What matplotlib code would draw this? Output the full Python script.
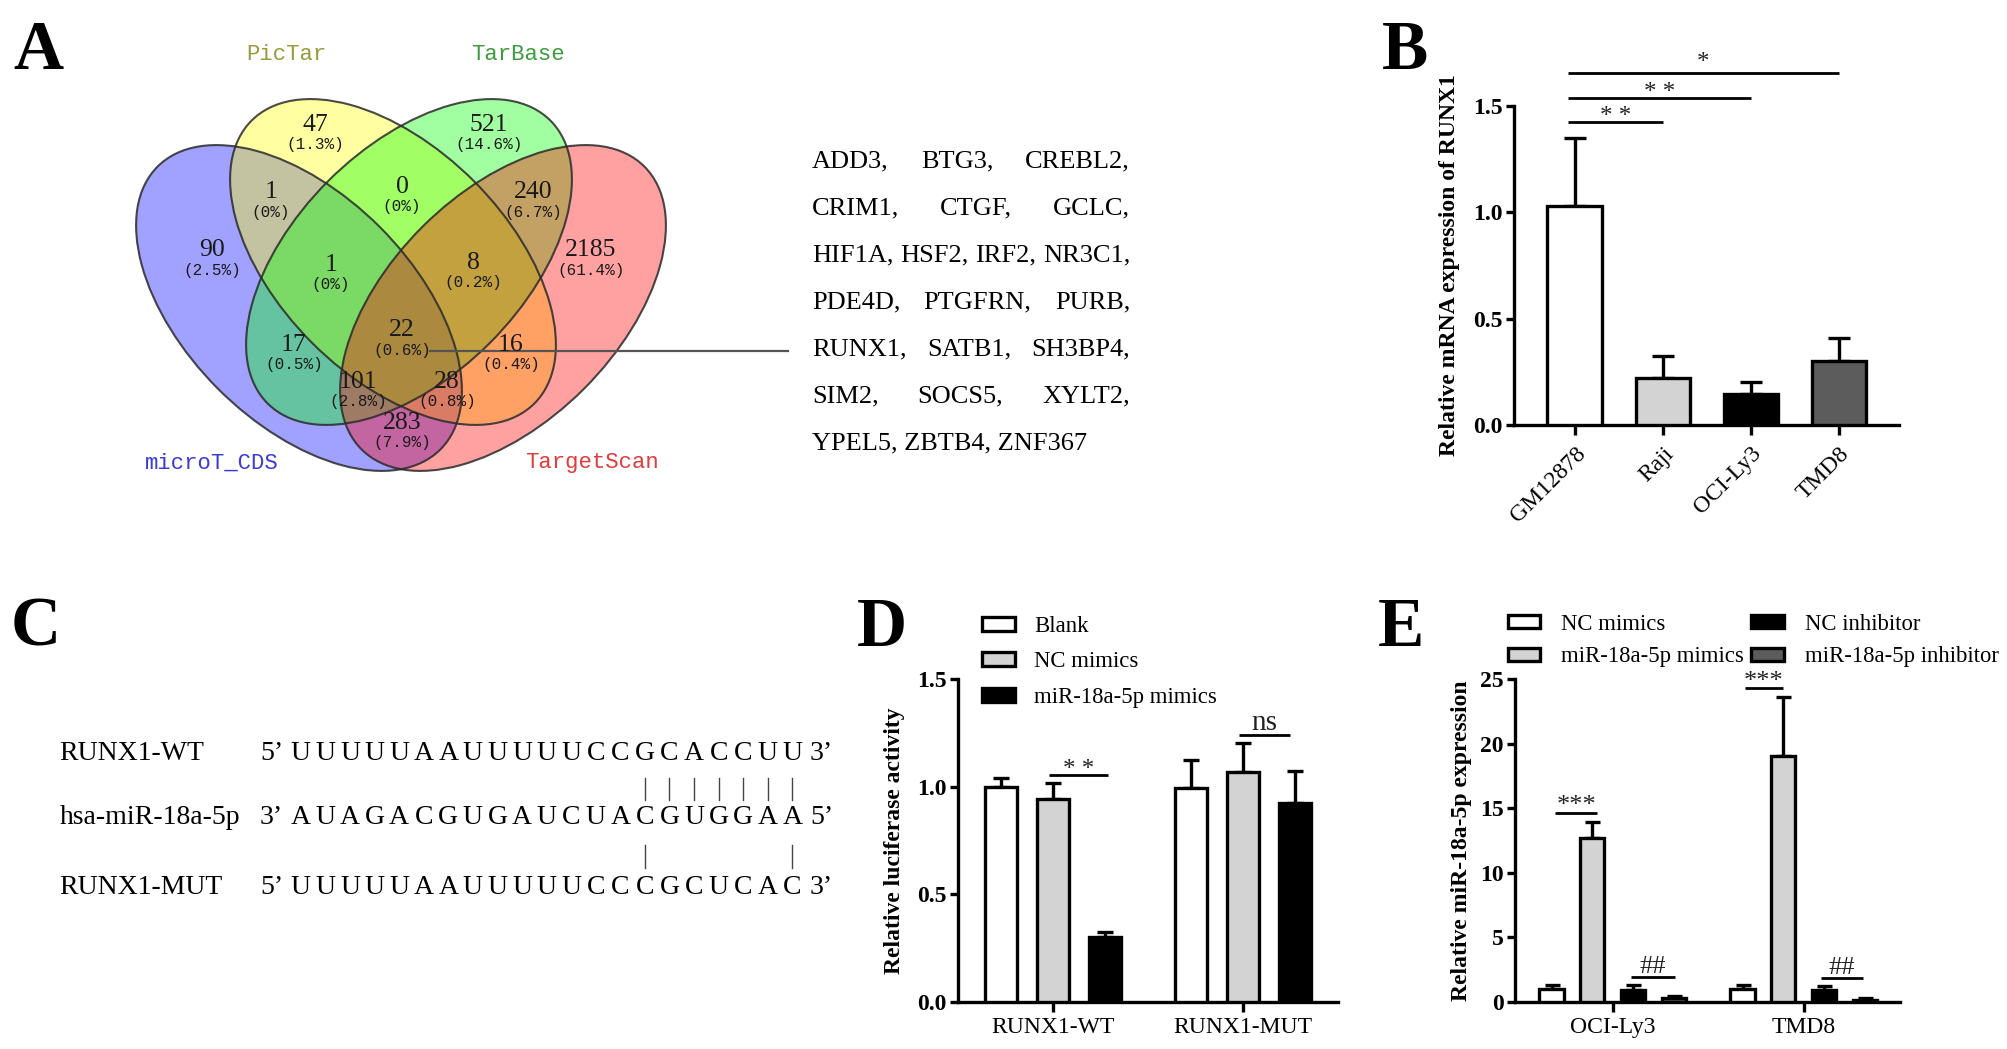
import numpy as np
import matplotlib
matplotlib.use('Agg')
import matplotlib.pyplot as plt
from matplotlib.patches import Ellipse

plt.rcParams['font.family'] = ['Liberation Serif', 'DejaVu Serif']

# ---------------- data ----------------
venn_sets = ['microT_CDS', 'PicTar', 'TarBase', 'TargetScan']
venn_colors = ['#0000FF', '#FFFF00', '#00FF00', '#FF0000']
venn_label_colors = ['#3A3AD8', '#9A9A3C', '#3C9C3C', '#E03C3C']
venn_counts = [47, 521, 1, 0, 240, 90, 1, 8, 2185, 22, 17, 16, 101, 28, 283]
venn_pcts = ['1.3%', '14.6%', '0%', '0%', '6.7%', '2.5%', '0%', '0.2%',
             '61.4%', '0.6%', '0.5%', '0.4%', '2.8%', '0.8%', '7.9%']
common_genes = ['ADD3', 'BTG3', 'CREBL2', 'CRIM1', 'CTGF', 'GCLC', 'HIF1A', 'HSF2',
                'IRF2', 'NR3C1', 'PDE4D', 'PTGFRN', 'PURB', 'RUNX1', 'SATB1', 'SH3BP4',
                'SIM2', 'SOCS5', 'XYLT2', 'YPEL5', 'ZBTB4', 'ZNF367']
gene_row_sizes = [3, 3, 4, 3, 3, 3, 3]

cells_B = ['GM12878', 'Raji', 'OCI-Ly3', 'TMD8']
runx1_mean = [1.03, 0.22, 0.147, 0.30]
runx1_err = [0.32, 0.106, 0.055, 0.109]
sig_B = ['**', '**', '*']

seq_names = ['RUNX1-WT', 'hsa-miR-18a-5p', 'RUNX1-MUT']
seq_ends = [('5\u2019', '3\u2019'), ('3\u2019', '5\u2019'), ('5\u2019', '3\u2019')]
seqs = ['UUUUUAAUUUUUCCGCACCUU', 'AUAGACGUGAUCUACGUGGAA', 'UUUUUAAUUUUUCCCGCUCAC']
pairs_top = [14, 15, 16, 17, 18, 19, 20]
pairs_bottom = [14, 20]

constructs = ['RUNX1-WT', 'RUNX1-MUT']
groups_D = ['Blank', 'NC mimics', 'miR-18a-5p mimics']
luc_blank = [0.996, 0.992]
luc_nc = [0.942, 1.066]
luc_mir = [0.299, 0.925]
luc_blank_err = [0.042, 0.132]
luc_nc_err = [0.073, 0.135]
luc_mir_err = [0.023, 0.147]
sig_D = ['**', 'ns']

cells_E = ['OCI-Ly3', 'TMD8']
groups_E = ['NC mimics', 'miR-18a-5p mimics', 'NC inhibitor', 'miR-18a-5p inhibitor']
mir_nc_mimics = [1.0, 1.0]
mir_mimics = [12.7, 19.06]
mir_nc_inh = [0.9, 0.9]
mir_inh = [0.26, 0.15]
mir_nc_mimics_err = [0.33, 0.28]
mir_mimics_err = [1.2, 4.57]
mir_nc_inh_err = [0.38, 0.3]
mir_inh_err = [0.15, 0.1]
sig_E = ['***', '##']

# ---------------- layout helpers ----------------
W, H = 2008, 1049
fig = plt.figure(figsize=(W / 100, H / 100), dpi=100)
fig.patch.set_facecolor('white')


def fx(x):
    return x / W


def fy(y):
    return 1 - y / H


def rect(l, t, r, b):
    return [l / W, 1 - b / H, (r - l) / W, (b - t) / H]


LW = 2.4
TICKFS = 17
LABFS = 17

# panel letters
for letter, (x, y) in zip('ABCDE', [(13, 69), (1382, 69), (11, 646), (857, 646), (1378, 646)]):
    fig.text(fx(x), fy(y), letter, fontsize=50, fontweight='bold', ha='left', va='baseline')

# ---------------- Panel A : Venn (axes in pixel units) ----------------
VL, VT, VR, VB = 80, 20, 820, 520
axv = fig.add_axes(rect(VL, VT, VR, VB))
axv.set_xlim(VL, VR)
axv.set_ylim(VB, VT)
axv.axis('off')
ell_a, ell_b = 200, 114.4
ell_geom = [((299, 308), 45), ((393, 262), 45), ((409, 262), -45), ((503, 308), -45)]
for (c, ang), col in zip(ell_geom, venn_colors):
    axv.add_patch(Ellipse(c, 2 * ell_a, 2 * ell_b, angle=ang, facecolor=col, alpha=0.37,
                          edgecolor='none'))
for (c, ang) in ell_geom:
    axv.add_patch(Ellipse(c, 2 * ell_a, 2 * ell_b, angle=ang, facecolor='none',
                          edgecolor='#2a2a2a', linewidth=1.5, alpha=0.85))

region_pos = [(315, 125), (489, 125), (271, 192), (402, 187), (533, 192),
              (212, 250), (331, 265), (473, 263), (591, 250), (402, 330),
              (294, 345), (511, 345), (358, 382), (447, 382), (402, 423)]
for (x, y), n, p in zip(region_pos, venn_counts, venn_pcts):
    axv.text(x, y, str(n), fontsize=18.5, ha='center', va='center', color='#1a1a1a')
    axv.text(x, y + 20, '(' + p + ')', fontsize=11.5, family='Liberation Mono',
             ha='center', va='center', color='#1a1a1a')

cat_pos = [(212, 463), (286, 55), (518, 55), (592, 463)]
for (x, y), name, col in zip(cat_pos, venn_sets, venn_label_colors):
    axv.text(x, y, name, fontsize=16, family='Liberation Mono', ha='center', va='center', color=col)

axv.plot([430, 788], [351, 351], color='#555555', lw=1.6, clip_on=False)

# gene list (justified)
renderer = fig.canvas.get_renderer()
gx0, gx1 = 812, 1130
idx = 0
for r, n in enumerate(gene_row_sizes):
    words = common_genes[idx:idx + n]
    idx += n
    yc = 161 + 47 * r
    last = (r == len(gene_row_sizes) - 1)
    if last:
        fig.text(fx(gx0), fy(yc), ', '.join(words), fontsize=19, ha='left', va='center')
    else:
        words = [w + ',' for w in words]
        ts = [fig.text(0, fy(yc), w, fontsize=19, ha='left', va='center') for w in words]
        wds = [t.get_window_extent(renderer).width for t in ts]
        gap = (gx1 - gx0 - sum(wds)) / (len(ts) - 1)
        x = gx0
        for t, wd in zip(ts, wds):
            t.set_x(fx(x))
            x += wd + gap


def style_bar_axes(ax, top_tick, ticks, ticklabels):
    for s in ['top', 'right']:
        ax.spines[s].set_visible(False)
    for s in ['left', 'bottom']:
        ax.spines[s].set_linewidth(LW)
    ax.spines['left'].set_bounds(0, top_tick)
    ax.set_yticks(ticks)
    ax.set_yticklabels(ticklabels, fontweight='bold', fontsize=TICKFS)
    ax.tick_params(axis='y', direction='out', length=6, width=LW, pad=2)
    ax.tick_params(axis='x', direction='out', length=7, width=LW, pad=4)


def sig(ax, x0, x1, y, text, dy, fs=20, lw=2.0):
    ax.plot([x0, x1], [y, y], color='black', lw=lw, clip_on=False, solid_capstyle='butt')
    ax.text((x0 + x1) / 2, y + dy, text, ha='center', va='center', fontsize=fs,
            color='#222222', clip_on=False)


# ---------------- Panel B ----------------
yB0, pB = 425, 212.7
axB = fig.add_axes(rect(1514, yB0 - 1.8 * pB, 1899, yB0))
xB = np.arange(len(cells_B))
axB.bar(xB, runx1_mean, 0.62, color=['white', '#d3d3d3', 'black', '#5c5c5c'],
        edgecolor='black', linewidth=LW, zorder=3)
axB.errorbar(xB, runx1_mean, yerr=[np.zeros(len(xB)), runx1_err], fmt='none', ecolor='black',
             elinewidth=LW, capsize=8, capthick=LW, zorder=2)
axB.set_xlim(-0.69, 3.68)
axB.set_ylim(0, 1.8)
style_bar_axes(axB, 1.5, [0, 0.5, 1.0, 1.5], ['0.0', '0.5', '1.0', '1.5'])
axB.set_xticks(xB)
axB.set_xticklabels(cells_B, rotation=45, ha='right', va='top', rotation_mode='anchor', fontsize=TICKFS)
axB.tick_params(axis='x', pad=6)
axB.set_ylabel('Relative mRNA expression of RUNX1', fontsize=LABFS, fontweight='bold')
axB.yaxis.set_label_coords(-0.139, 0.75 / 1.8)
for tgt, yv, s, dy in zip([1, 2, 3], [1.426, 1.539, 1.656], sig_B, [0.022, 0.022, 0.045]):
    sig(axB, -0.08, tgt, yv, s.replace('**', '* *'), dy, fs=18)

# ---------------- Panel C ----------------
row_y = [753, 818, 887]
for name, (e0, e1), sq, yc in zip(seq_names, seq_ends, seqs, row_y):
    fig.text(fx(59.6), fy(yc), name, fontsize=20, ha='left', va='center')
    fig.text(fx(260), fy(yc), e0, fontsize=20, ha='left', va='center')
    fig.text(fx(810), fy(yc), e1, fontsize=20, ha='left', va='center')
    for i, ch in enumerate(sq):
        fig.text(fx(300.8 + 24.58 * i), fy(yc), ch, fontsize=20, ha='center', va='center')
for i in pairs_top:
    x = fx(300.8 + 24.58 * i)
    fig.add_artist(plt.Line2D([x, x], [fy(778), fy(800)], color='#444444', lw=1.0))
for i in pairs_bottom:
    x = fx(300.8 + 24.58 * i)
    fig.add_artist(plt.Line2D([x, x], [fy(845), fy(868)], color='#444444', lw=1.0))

# ---------------- Panel D ----------------
yD0, pD = 1001.7, 215.1
axD = fig.add_axes(rect(958, yD0 - 1.55 * pD, 1338, yD0))
xD = np.arange(len(constructs))
offD = [-0.275, 0.0, 0.275]
colD = ['white', '#d3d3d3', 'black']
valsD = [luc_blank, luc_nc, luc_mir]
errsD = [luc_blank_err, luc_nc_err, luc_mir_err]
handlesD = []
for o, c, v, e, lab in zip(offD, colD, valsD, errsD, groups_D):
    b = axD.bar(xD + o, v, 0.17, color=c, edgecolor='black', linewidth=LW, zorder=3, label=lab)
    axD.errorbar(xD + o, v, yerr=[np.zeros(len(xD)), e], fmt='none', ecolor='black',
                 elinewidth=LW, capsize=6, capthick=LW, zorder=2)
    handlesD.append(b)
axD.set_xlim(-0.5, 1.5)
axD.set_ylim(0, 1.55)
style_bar_axes(axD, 1.5, [0, 0.5, 1.0, 1.5], ['0.0', '0.5', '1.0', '1.5'])
axD.set_xticks(xD)
axD.set_xticklabels(constructs, fontsize=TICKFS)
axD.set_ylabel('Relative luciferase activity', fontsize=LABFS, fontweight='bold')
axD.yaxis.set_label_coords(-0.1405, 0.75 / 1.55)
sig(axD, -0.02, 0.29, 1.054, sig_D[0].replace('**', '* *'), 0.025, fs=18)
sig(axD, 0.98, 1.247, 1.24, sig_D[1], 0.055, fs=21)
axD.legend(handlesD, groups_D, loc='upper left', bbox_to_anchor=(fx(982), fy(616)),
           bbox_transform=fig.transFigure, frameon=False, prop={'size': 16.4},
           borderpad=0, borderaxespad=0, handlelength=1.45, handleheight=0.55,
           handletextpad=0.85, labelspacing=0.63)

# ---------------- Panel E ----------------
yE0, pE = 1001.7, 12.91
axE = fig.add_axes(rect(1514.7, yE0 - 25.8 * pE, 1900, yE0))
xE = np.arange(len(cells_E))
offE = [-0.32, -0.107, 0.107, 0.32]
colE = ['white', '#d3d3d3', 'black', '#5c5c5c']
valsE = [mir_nc_mimics, mir_mimics, mir_nc_inh, mir_inh]
errsE = [mir_nc_mimics_err, mir_mimics_err, mir_nc_inh_err, mir_inh_err]
handlesE = []
for o, c, v, e, lab in zip(offE, colE, valsE, errsE, groups_E):
    b = axE.bar(xE + o, v, 0.127, color=c, edgecolor='black', linewidth=LW, zorder=3, label=lab)
    axE.errorbar(xE + o, v, yerr=[np.zeros(len(xE)), e], fmt='none', ecolor='black',
                 elinewidth=LW, capsize=5.4, capthick=LW, zorder=2)
    handlesE.append(b)
axE.set_xlim(-0.513, 1.504)
axE.set_ylim(0, 25.8)
style_bar_axes(axE, 25, [0, 5, 10, 15, 20, 25], ['0', '5', '10', '15', '20', '25'])
axE.set_xticks(xE)
axE.set_xticklabels(cells_E, fontsize=TICKFS)
axE.set_ylabel('Relative miR-18a-5p expression', fontsize=LABFS, fontweight='bold')
axE.yaxis.set_label_coords(-0.112, 12.5 / 25.8)
sig(axE, -0.30, -0.083, 14.64, sig_E[0], 0.5, fs=19)
sig(axE, 0.69, 0.893, 24.28, sig_E[0], 0.5, fs=19)
sig(axE, 0.096, 0.328, 1.89, sig_E[1], 0.8, fs=19)
sig(axE, 1.089, 1.308, 1.81, sig_E[1], 0.8, fs=19)
axE.legend(handlesE, groups_E, ncol=2, loc='upper left', bbox_to_anchor=(fx(1507.5), fy(614)),
           bbox_transform=fig.transFigure, frameon=False, prop={'size': 16.4},
           borderpad=0, borderaxespad=0, handlelength=1.42, handleheight=0.5,
           handletextpad=0.95, columnspacing=0.3, labelspacing=0.5)

fig.savefig('out.png', dpi=100, facecolor='white')
